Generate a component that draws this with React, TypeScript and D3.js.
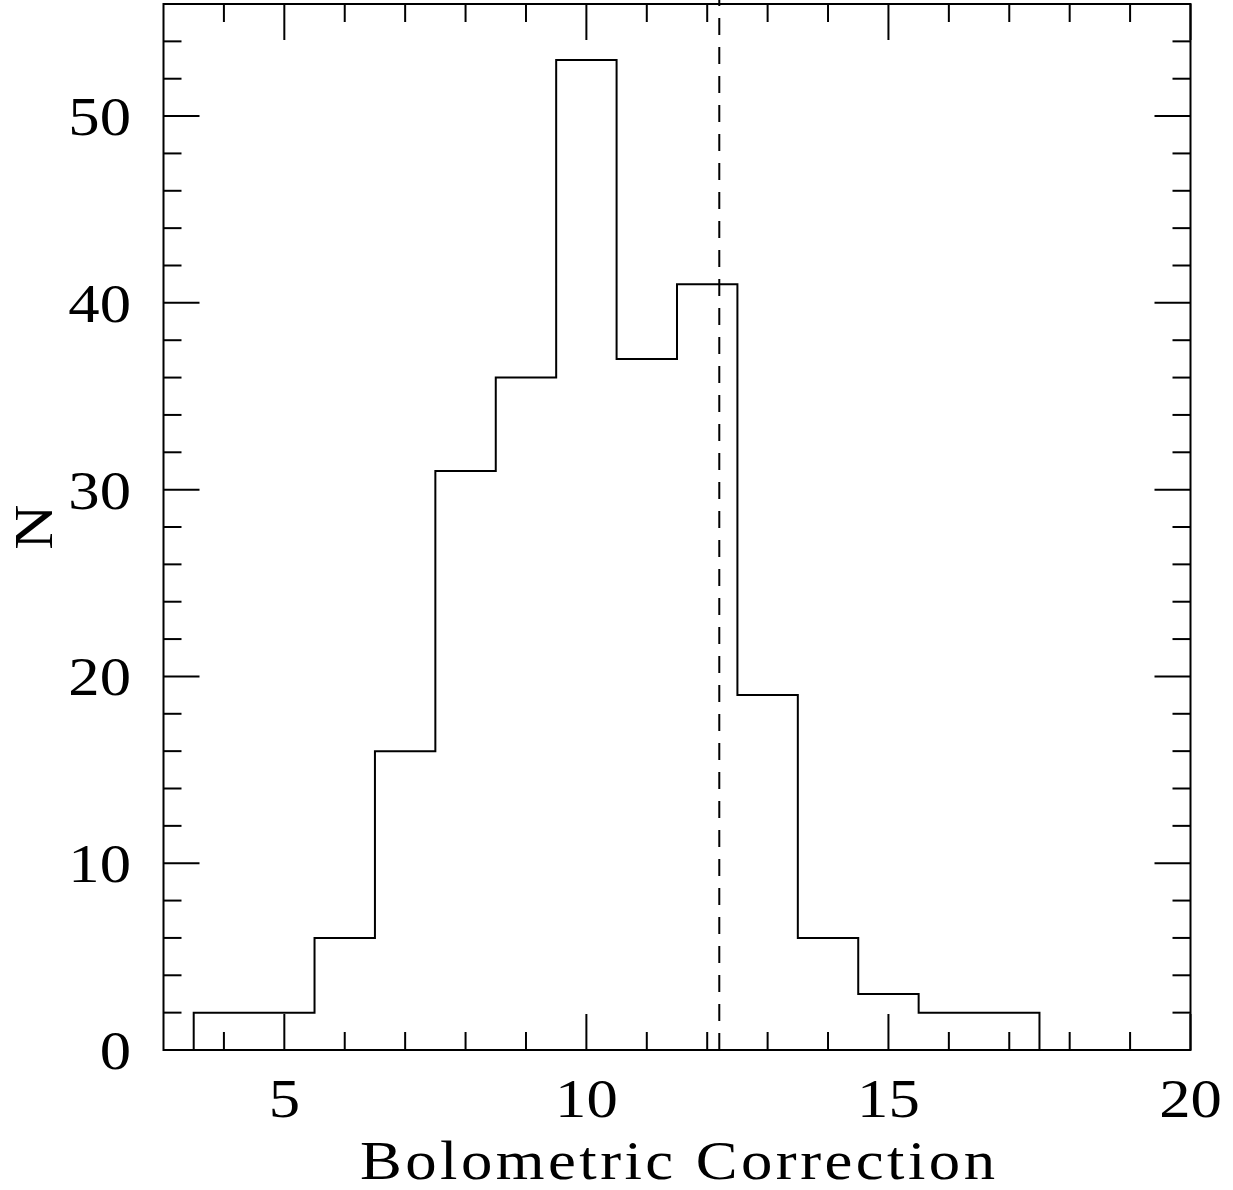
import React from "react";
import * as d3 from "d3";

const binEdges = [3.5, 4.5, 5.5, 6.5, 7.5, 8.5, 9.5, 10.5, 11.5, 12.5, 13.5, 14.5, 15.5, 16.5, 17.5];
const counts = [2, 2, 6, 16, 31, 36, 53, 37, 41, 19, 6, 3, 2, 2];
const dashedX = 12.2;
const xMajorTicks = [5, 10, 15, 20];
const yMajorTicks = [0, 10, 20, 30, 40, 50];
const xLabel = "Bolometric Correction";
const yLabel = "N";

const W = 1233;
const H = 1190;
const L = 163.5, R = 1190.5, T = 4, B = 1050;
const FONT = "'Liberation Serif', 'DejaVu Serif', serif";
const SX = 1.12;

export default function App() {
  const x = d3.scaleLinear().domain([3, 20]).range([L, R]);
  const y = d3.scaleLinear().domain([0, 56]).range([B, T]);

  const pts: [number, number][] = [[binEdges[0], 0]];
  counts.forEach((c, i) => {
    pts.push([binEdges[i], c]);
    pts.push([binEdges[i + 1], c]);
  });
  pts.push([binEdges[binEdges.length - 1], 0]);
  const line = d3.line<[number, number]>().x((d) => x(d[0])).y((d) => y(d[1]));

  const xMinor = d3.range(4, 20, 1).filter((v) => !xMajorTicks.includes(v));
  const yMinor = d3.range(2, 56, 2).filter((v) => !yMajorTicks.includes(v));
  const minorLen = 18;
  const majorLen = 36;

  const ticks: JSX.Element[] = [];
  const addX = (v: number, len: number, k: string) => {
    ticks.push(<line key={"xb" + k} x1={x(v)} x2={x(v)} y1={B} y2={B - len} />);
    ticks.push(<line key={"xt" + k} x1={x(v)} x2={x(v)} y1={T} y2={T + len} />);
  };
  const addY = (v: number, len: number, k: string) => {
    ticks.push(<line key={"yl" + k} x1={L} x2={L + len} y1={y(v)} y2={y(v)} />);
    ticks.push(<line key={"yr" + k} x1={R} x2={R - len} y1={y(v)} y2={y(v)} />);
  };
  xMinor.forEach((v) => addX(v, minorLen, "m" + v));
  xMajorTicks.forEach((v) => addX(v, majorLen, "M" + v));
  yMinor.forEach((v) => addY(v, minorLen, "m" + v));
  yMajorTicks.forEach((v) => addY(v, majorLen, "M" + v));

  return (
    <svg
      width={W}
      height={H}
      style={{ position: "absolute", left: 0, top: 0, background: "#fff" }}
    >
      <rect x={0} y={0} width={W} height={H} fill="#fff" />
      <g stroke="#000" strokeWidth={2} fill="none">
        {ticks}
        <rect x={L} y={T} width={R - L} height={B - T} />
      </g>
      <path d={line(pts) || ""} fill="none" stroke="#000" strokeWidth={2} />
      <line
        x1={x(dashedX)}
        x2={x(dashedX)}
        y1={B}
        y2={0}
        stroke="#000"
        strokeWidth={2}
        strokeDasharray="17 12"
      />
      <g fontFamily={FONT} fontSize={56} fill="#000">
        {xMajorTicks.map((v) => (
          <text
            key={"xl" + v}
            transform={`translate(${x(v)}, 1117) scale(${SX}, 1)`}
            textAnchor="middle"
          >
            {v}
          </text>
        ))}
        {yMajorTicks.map((v) => (
          <text
            key={"yl" + v}
            transform={`translate(131, ${y(v) + 19}) scale(${SX}, 1)`}
            textAnchor="end"
          >
            {v}
          </text>
        ))}
        <text
          transform={`translate(360, 1179) scale(${SX}, 1)`}
          x={0}
          y={0}
          textLength={635 / SX}
          lengthAdjust="spacing"
        >
          {xLabel}
        </text>
        <text
          transform={`translate(52, ${(T + B) / 2}) rotate(-90) scale(${SX}, 1)`}
          textAnchor="middle"
        >
          {yLabel}
        </text>
      </g>
    </svg>
  );
}
